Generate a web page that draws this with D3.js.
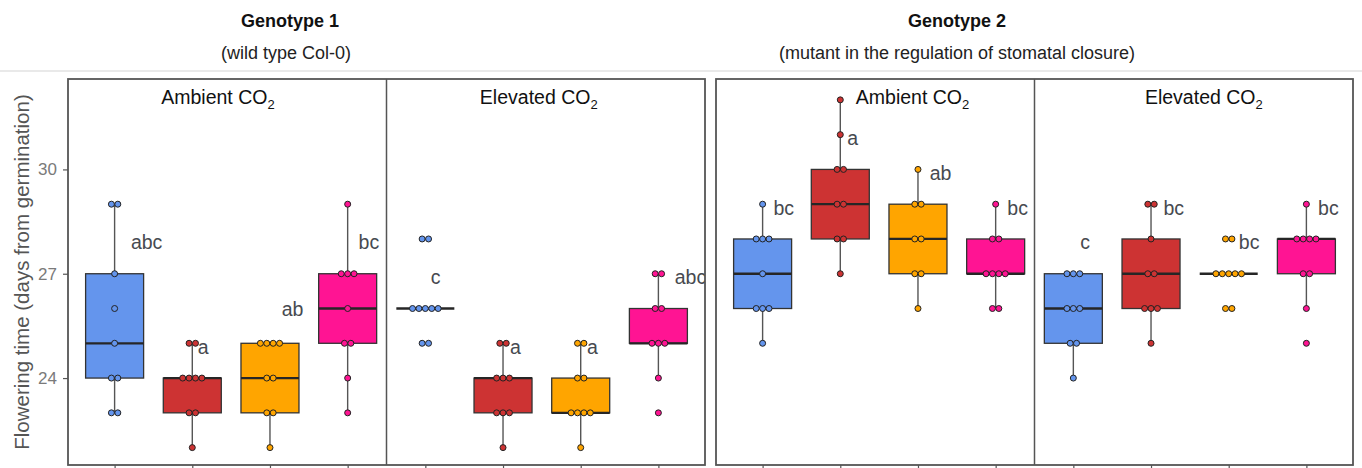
<!DOCTYPE html>
<html>
<head>
<meta charset="utf-8">
<script src="https://cdn.jsdelivr.net/npm/d3@7"></script>
<style>
  body { margin: 0; background: #fff; }
  svg { display: block; }
</style>
</head>
<body>
<svg id="chart" width="1362" height="468"></svg>
<script>
// ---- data ---------------------------------------------------------------
const lines = ["L1", "L2", "L3", "L4"];
const lineColors = ["#6495ED", "#CD3333", "#FFA500", "#FF1493"];
const treatments = ["Ambient", "Elevated"];
const genotypeTitles = ["Genotype 1", "Genotype 2"];
const genotypeSubtitles = ["(wild type Col-0)", "(mutant in the regulation of stomatal closure)"];
const yTicks = [24, 27, 30];
const yLabel = "Flowering time (days from germination)";

// flowering time (days) of each plant; order: Ambient L1..L4, Elevated L1..L4
const g1Values = [
  [23, 23, 24, 24, 25, 26, 27, 29, 29],
  [22, 23, 23, 24, 24, 24, 24, 25, 25],
  [22, 23, 23, 24, 24, 25, 25, 25, 25],
  [23, 24, 25, 25, 26, 27, 27, 27, 29],
  [25, 25, 26, 26, 26, 26, 26, 28, 28],
  [22, 23, 23, 23, 24, 24, 24, 25, 25],
  [22, 23, 23, 23, 23, 24, 24, 25, 25],
  [23, 24, 25, 25, 25, 26, 26, 27, 27]
];
const g2Values = [
  [25, 26, 26, 26, 27, 28, 28, 28, 29],
  [27, 28, 28, 29, 29, 30, 30, 31, 32],
  [26, 27, 27, 28, 28, 29, 29, 30],
  [26, 26, 27, 27, 27, 27, 28, 28, 29],
  [24, 25, 25, 26, 26, 26, 27, 27, 27],
  [25, 26, 26, 26, 27, 27, 28, 29, 29],
  [26, 26, 27, 27, 27, 27, 27, 28, 28],
  [25, 26, 27, 27, 28, 28, 28, 28, 29]
];

// significance letters, their height (days) and horizontal nudge (in category steps)
const g1Letters = ["abc", "a", "ab", "bc", "c", "a", "a", "abc"];
const g2Letters = ["bc", "a", "ab", "bc", "c", "bc", "bc", "bc"];
const g1LetterY = [27.9, 24.9, 26.0, 27.9, 26.9, 24.9, 24.9, 26.9];
const g2LetterY = [28.9, 30.9, 29.9, 28.9, 27.9, 28.9, 27.9, 28.9];
const g1LetterDx = [0.21, 0.07, 0.15, 0.14, 0.07, 0.09, 0.08, 0.21];
const g2LetterDx = [0.14, 0.09, 0.15, 0.15, 0.09, 0.16, 0.13, 0.15];

// treatment strip labels: centre position on the category axis
const g1StripAt = [1.33, 5.46];
const g2StripAt = [1.93, 5.68];

// ---- layout -------------------------------------------------------------
const svg = d3.select("#chart");
const plotTop = 79, plotBottom = 465;
const y = d3.scaleLinear().domain([21.5, 32.6]).range([plotBottom, plotTop]);

const genotypes = [
  { title: genotypeTitles[0], sub: genotypeSubtitles[0], values: g1Values,
    letters: g1Letters, letterY: g1LetterY, letterDx: g1LetterDx, strip: g1StripAt,
    x0: 68, x1: 705, titleX: 290, subX: 286, axis: true },
  { title: genotypeTitles[1], sub: genotypeSubtitles[1], values: g2Values,
    letters: g2Letters, letterY: g2LetterY, letterDx: g2LetterDx, strip: g2StripAt,
    x0: 716, x1: 1353, titleX: 957, subX: 957, axis: false }
];

const fontFamily = "'Liberation Sans', Arial, sans-serif";

// separator under the titles
svg.append("line")
  .attr("x1", 0).attr("x2", 1362).attr("y1", 71).attr("y2", 71)
  .attr("stroke", "#e2e2e2").attr("stroke-width", 1.5);

function boxStats(vals) {
  const s = vals.slice().sort(d3.ascending);
  const q1 = d3.quantile(s, 0.25), med = d3.quantile(s, 0.5), q3 = d3.quantile(s, 0.75);
  const iqr = q3 - q1;
  const lo = d3.min(s.filter(v => v >= q1 - 1.5 * iqr));
  const hi = d3.max(s.filter(v => v <= q3 + 1.5 * iqr));
  return { q1, med, q3, lo, hi };
}

genotypes.forEach((g, gi) => {
  const keys = d3.range(8);
  const x = d3.scalePoint().domain(keys).range([g.x0, g.x1]).padding(0.6);
  const step = x.step();
  const xAt = i => x(0) + i * step;
  const boxW = 58;
  const dotR = 3, dotGap = 6.4;

  const clipId = "clip" + gi;
  svg.append("clipPath").attr("id", clipId)
    .append("rect").attr("x", g.x0).attr("y", plotTop)
    .attr("width", g.x1 - g.x0).attr("height", plotBottom - plotTop);

  const plot = svg.append("g").attr("clip-path", `url(#${clipId})`);

  g.values.forEach((vals, i) => {
    const cx = x(i);
    const col = lineColors[i % 4];
    const st = boxStats(vals);

    // whiskers
    if (st.hi > st.q3) plot.append("line").attr("x1", cx).attr("x2", cx)
      .attr("y1", y(st.q3)).attr("y2", y(st.hi)).attr("stroke", "#555").attr("stroke-width", 1.4);
    if (st.lo < st.q1) plot.append("line").attr("x1", cx).attr("x2", cx)
      .attr("y1", y(st.q1)).attr("y2", y(st.lo)).attr("stroke", "#555").attr("stroke-width", 1.4);

    // box
    if (st.q3 > st.q1) plot.append("rect")
      .attr("x", cx - boxW / 2).attr("width", boxW)
      .attr("y", y(st.q3)).attr("height", y(st.q1) - y(st.q3))
      .attr("fill", col).attr("stroke", "#333").attr("stroke-width", 1.3);
    plot.append("line")
      .attr("x1", cx - boxW / 2).attr("x2", cx + boxW / 2)
      .attr("y1", y(st.med)).attr("y2", y(st.med))
      .attr("stroke", "#262626").attr("stroke-width", 2.3);

    // dots, stacked sideways and centred on the category
    const counts = d3.rollups(vals, v => v.length, v => v);
    counts.forEach(([v, n]) => {
      for (let k = 0; k < n; k++) {
        plot.append("circle")
          .attr("cx", cx + (k - (n - 1) / 2) * dotGap)
          .attr("cy", y(v))
          .attr("r", dotR)
          .attr("fill", col)
          .attr("stroke", "#222").attr("stroke-width", 1);
      }
    });

    // letters
    plot.append("text")
      .attr("x", xAt(i + g.letterDx[i]))
      .attr("y", y(g.letterY[i]))
      .attr("dy", "0.36em")
      .attr("font-family", fontFamily).attr("font-size", 19.5)
      .attr("fill", "#474a50")
      .text(g.letters[i]);
  });

  // divider between treatments
  const midX = (x(3) + x(4)) / 2;
  svg.append("line").attr("x1", midX).attr("x2", midX).attr("y1", plotTop).attr("y2", plotBottom)
    .attr("stroke", "#555").attr("stroke-width", 1.5);

  // treatment labels
  treatments.forEach((t, ti) => {
    const tx = svg.append("text")
      .attr("x", xAt(g.strip[ti])).attr("y", 104)
      .attr("text-anchor", "middle")
      .attr("font-family", fontFamily).attr("font-size", 19.5)
      .attr("fill", "#111");
    tx.append("tspan").text(t + " CO");
    tx.append("tspan").attr("font-size", 13).attr("dy", 5).text("2");
  });

  // frame
  svg.append("rect")
    .attr("x", g.x0).attr("y", plotTop).attr("width", g.x1 - g.x0).attr("height", plotBottom - plotTop)
    .attr("fill", "none").attr("stroke", "#555").attr("stroke-width", 1.8);

  // category ticks
  const xAxis = svg.append("g").attr("transform", `translate(0,${plotBottom})`)
    .call(d3.axisBottom(x).tickSize(5).tickFormat(""));
  xAxis.select(".domain").remove();
  xAxis.selectAll(".tick line").attr("stroke", "#555").attr("stroke-width", 1.2);

  // y axis (first genotype only)
  if (g.axis) {
    const yAxis = svg.append("g").attr("transform", `translate(${g.x0},0)`)
      .call(d3.axisLeft(y).tickValues(yTicks).tickSize(5).tickPadding(6));
    yAxis.select(".domain").remove();
    yAxis.selectAll(".tick line").attr("stroke", "#555").attr("stroke-width", 1.2);
    yAxis.selectAll(".tick text")
      .attr("font-family", fontFamily).attr("font-size", 17).attr("fill", "#7a7a7a");

    svg.append("text")
      .attr("transform", `translate(29,${(plotTop + plotBottom) / 2}) rotate(-90)`)
      .attr("text-anchor", "middle")
      .attr("font-family", fontFamily).attr("font-size", 20.5)
      .attr("fill", "#555")
      .text(yLabel);
  }

  // genotype titles
  svg.append("text")
    .attr("x", g.titleX).attr("y", 27).attr("text-anchor", "middle")
    .attr("font-family", fontFamily).attr("font-size", 18).attr("font-weight", "bold")
    .attr("fill", "#111").text(g.title);
  svg.append("text")
    .attr("x", g.subX).attr("y", 59).attr("text-anchor", "middle")
    .attr("font-family", fontFamily).attr("font-size", 18)
    .attr("fill", "#222").text(g.sub);
});
</script>
</body>
</html>
